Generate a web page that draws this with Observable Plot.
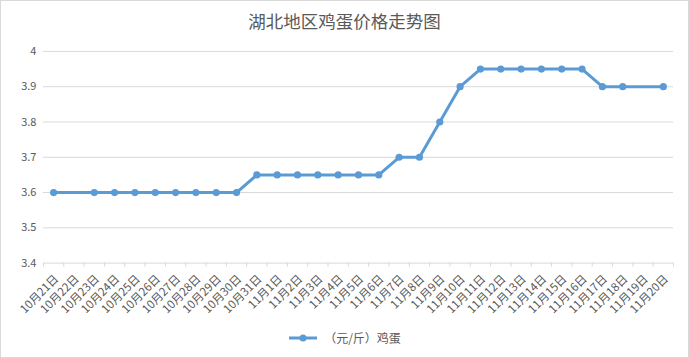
<!DOCTYPE html>
<html>
<head>
<meta charset="utf-8">
<script src="https://cdn.jsdelivr.net/npm/d3@7"></script>
<script src="https://cdn.jsdelivr.net/npm/@observablehq/plot@0.6"></script>
<style>
  html, body { margin: 0; padding: 0; background: #fff; }
  #wrap { position: relative; width: 689px; height: 358px; box-sizing: border-box; border: 1px solid #d9d9d9; font-family: "Noto Sans CJK SC", "Noto Sans", sans-serif; overflow: hidden; }
  #chart { position: absolute; left: -1px; top: -1px; }
  #title { position: absolute; left: 0; right: 0; top: 7px; text-align: center; font-size: 17.5px; color: #595959; }
  #legend { position: absolute; left: 0; right: 0; top: 328px; text-align: center; font-size: 12px; color: #595959; display: flex; justify-content: center; align-items: center; gap: 6px; }
</style>
</head>
<body>
<div id="wrap">
  <div id="chart"></div>
  <div id="title">湖北地区鸡蛋价格走势图</div>
  <div id="legend"><svg width="30" height="10"><line x1="1" y1="5" x2="29" y2="5" stroke="#5b9bd5" stroke-width="3"/><circle cx="15" cy="5" r="3.5" fill="#5b9bd5"/></svg><span>（元/斤）鸡蛋</span></div>
</div>
<script>
const dates = ["10月21日","10月22日","10月23日","10月24日","10月25日","10月26日","10月27日","10月28日","10月29日","10月30日","10月31日",
  "11月1日","11月2日","11月3日","11月4日","11月5日","11月6日","11月7日","11月8日","11月9日","11月10日",
  "11月11日","11月12日","11月13日","11月14日","11月15日","11月16日","11月17日","11月18日","11月19日","11月20日"];
const prices = [3.6, null, 3.6, 3.6, 3.6, 3.6, 3.6, 3.6, 3.6, 3.6,
  3.65, 3.65, 3.65, 3.65, 3.65, 3.65, 3.65,
  3.7, 3.7, 3.8, 3.9,
  3.95, 3.95, 3.95, 3.95, 3.95, 3.95,
  3.9, 3.9, null, 3.9];
const yTicks = [3.4, 3.5, 3.6, 3.7, 3.8, 3.9, 4];

const data = dates.map((d, i) => ({i, date: d, v: prices[i]})).filter(d => d.v != null);
const idx = dates.map((d, i) => i);
const bounds = dates.map((d, i) => i - 0.5).concat([dates.length - 0.5]);

const grey = "#d9d9d9", txt = "#595959", blue = "#5b9bd5";

const chart = Plot.plot({
  width: 689, height: 358,
  marginLeft: 43, marginRight: 15, marginTop: 51, marginBottom: 95,
  style: {fontFamily: "'Noto Sans CJK SC', 'Noto Sans', sans-serif", color: txt, background: "transparent"},
  x: {type: "linear", domain: [-0.5, dates.length - 0.5]},
  y: {domain: [3.4, 4]},
  marks: [
    Plot.gridY(yTicks.slice(1), {stroke: grey, strokeOpacity: 1, strokeWidth: 1}),
    Plot.ruleY([3.4], {stroke: grey, strokeWidth: 1}),
    Plot.axisY(yTicks, {tickSize: 0, tickPadding: 7, fontSize: 11, fill: txt, label: null, tickFormat: d => String(d)}),
    Plot.axisX(bounds, {tickSize: 4, stroke: grey, tickFormat: () => "", label: null}),
    Plot.axisX(idx, {tickSize: 0, tickPadding: 14, tickRotate: -45, fontSize: 11.5, fill: txt, label: null, tickFormat: i => dates[i], dx: 3}),
    Plot.line(data, {x: "i", y: "v", stroke: blue, strokeWidth: 3, curve: "linear"}),
    Plot.dot(data, {x: "i", y: "v", r: 3.6, fill: blue, stroke: "none"})
  ]
});
document.getElementById("chart").appendChild(chart);
</script>
</body>
</html>
